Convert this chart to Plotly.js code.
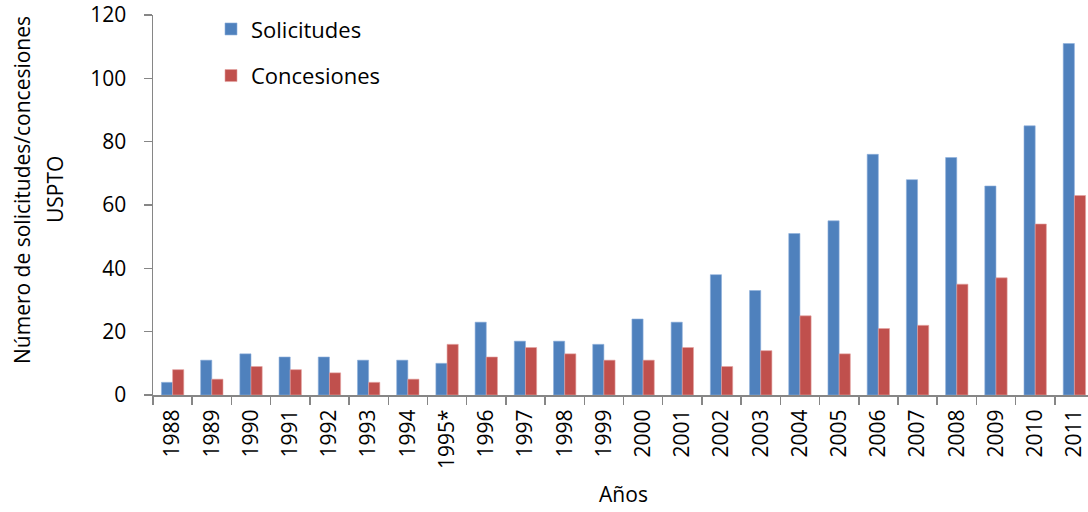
<!DOCTYPE html>
<html>
<head>
<meta charset="utf-8">
<script src="https://cdn.plot.ly/plotly-3.0.1.min.js"></script>
<style>html,body{margin:0;padding:0;background:#fff;overflow:hidden;}#chart{width:1094px;height:512px;}</style>
</head>
<body>
<div id="chart"></div>
<script>
const years = ["1988","1989","1990","1991","1992","1993","1994","1995*","1996","1997","1998","1999","2000","2001","2002","2003","2004","2005","2006","2007","2008","2009","2010","2011"];
const solicitudes = [4,11,13,12,12,11,11,10,23,17,17,16,24,23,38,33,51,55,76,68,75,66,85,111];
const concesiones = [8,5,9,8,7,4,5,16,12,15,13,11,11,15,9,14,25,13,21,22,35,37,54,63];
const yTitleLines = ["Número de solicitudes/concesiones", "USPTO"];

const font = "Open Sans, Noto Sans, sans-serif";
const traces = [
  {type:"bar", name:"Solicitudes", x:years, y:solicitudes, legendgroup:"a",
   marker:{color:"#4F81BD", line:{color:"#8EB0DC", width:0.6}}},
  {type:"bar", name:"Concesiones", x:years, y:concesiones, legendgroup:"b",
   marker:{color:"#C0504D", line:{color:"#E4A3A1", width:0.6}}}
];
const W = 1094, L = 153, T = 15, B = 117;
const pw = W - L, ph = 512 - T - B;
const layout = {
  width:W, height:512,
  margin:{l:L, r:0, t:T, b:B},
  paper_bgcolor:"#fff", plot_bgcolor:"#fff",
  barmode:"group", bargap:0.43, bargroupgap:0,
  font:{family:font, color:"#000", size:21},
  showlegend:true,
  legend:{x:(211-L)/pw, y:1.018, xanchor:"left", yanchor:"top", traceorder:"grouped", tracegroupgap:15,
          font:{family:font, size:22, color:"#000"}, bgcolor:"rgba(0,0,0,0)", itemwidth:30},
  xaxis:{type:"category", tickangle:-90, showline:true, linecolor:"#868686", linewidth:2,
         ticks:"outside", tickson:"boundaries", ticklen:8, tickcolor:"#868686", tickwidth:1.5,
         showgrid:false, zeroline:false, tickfont:{family:font, size:21}, ticklabelstandoff:4,
         title:{text:"Años", font:{family:font, size:21}, standoff:19}},
  yaxis:{range:[0,120], dtick:20, showline:true, linecolor:"#868686", linewidth:1.5,
         ticks:"outside", ticklen:8, tickcolor:"#868686", tickwidth:1.5,
         showgrid:false, zeroline:false, tickfont:{family:font, size:21}, ticklabelstandoff:13},
  annotations:[
    {text:yTitleLines[0], xref:"paper", yref:"paper", x:(22-L)/pw, y:(395-190)/ph, textangle:-90,
     showarrow:false, xanchor:"center", yanchor:"middle", font:{family:font, size:21, color:"#000"}},
    {text:yTitleLines[1], xref:"paper", yref:"paper", x:(55-L)/pw, y:(395-190)/ph, textangle:-90,
     showarrow:false, xanchor:"center", yanchor:"middle", font:{family:font, size:21, color:"#000"}}
  ]
};
Plotly.newPlot("chart", traces, layout, {displayModeBar:false, staticPlot:true});
</script>
</body>
</html>
